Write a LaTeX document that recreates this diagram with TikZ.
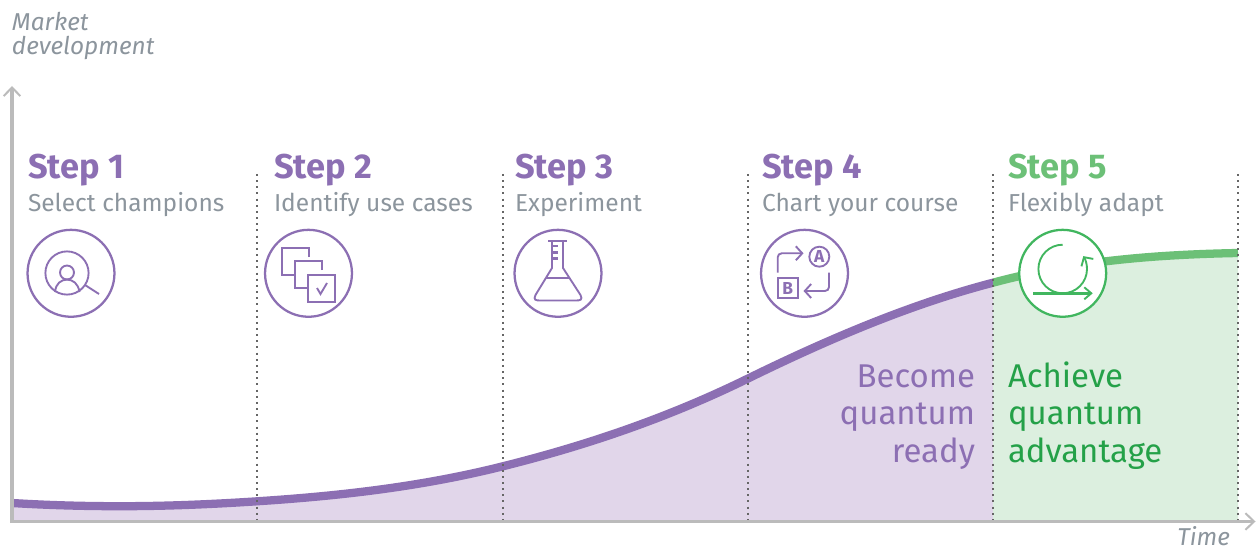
\documentclass[tikz,border=0pt]{standalone}
\usepackage{fontspec}
\setmainfont{Fira Sans}
\usetikzlibrary{arrows.meta}
\definecolor{purp}{HTML}{8C6FB3}
\definecolor{lpurp}{HTML}{E1D6EA}
\definecolor{grn}{HTML}{41B65F}
\definecolor{mgrn}{HTML}{6CC077}
\definecolor{lgrn}{HTML}{DCEFDF}
\definecolor{tgrn}{HTML}{24A148}
\definecolor{gtxt}{HTML}{8C959D}
\definecolor{axisc}{HTML}{BBBBBB}
\definecolor{dotc}{HTML}{666666}
\def\curvepath{(12,503) .. controls (48,505.2) and (84,506.2) .. (120,506.2) .. controls (166,506.2) and (211,504.3) .. (257,501.3) .. controls (338.7,496) and (420.3,486.9) .. (502,466.5) .. controls (583.7,446.1) and (665.3,419) .. (747,379) .. controls (829,338.8) and (911,304) .. (993,282.7) .. controls (1074.7,260.7) and (1156.3,254.6) .. (1238,253)}
\tikzset{
  txt/.style={inner sep=0pt,outer sep=0pt},
  stephead/.style={txt,anchor=base west,font=\fontsize{25.8}{28}\selectfont\bfseries},
  stepsub/.style={txt,anchor=base west,text=gtxt,font=\fontsize{18.4}{22}\selectfont},
  axlabel/.style={txt,text=gtxt,font=\fontsize{18.3}{18}\selectfont\itshape},
  bigtxt/.style={txt,font=\fontsize{24.7}{28.1}\selectfont},
  ring/.style={circle,draw=#1,line width=1.7pt,fill=white,minimum size=65.2pt,inner sep=0pt},
  ic/.style={draw=#1,line width=1.4pt,line join=miter},
  icthick/.style={draw=#1,line width=2.2pt},
  axisl/.style={draw=axisc,line width=2.6pt,-{Straight Barb[length=6.5pt,width=12.5pt,line width=1.5pt]}},
  sep/.style={draw=dotc,line width=1.5pt,dash pattern=on 1.5pt off 3.12pt},
  icarrow/.style={-{Straight Barb[length=4.8pt,width=10.5pt,line width=1.4pt]}}
}
\begin{document}
\begin{tikzpicture}[x=0.75pt,y=-0.75pt]
\useasboundingbox (0,0) rectangle (1256,549);
% fills
\begin{scope}
\clip (0,0) rectangle (993,530);
\fill[lpurp] \curvepath -- (1238,521) -- (12,521) -- cycle;
\end{scope}
\begin{scope}
\clip (993,0) rectangle (1238,530);
\fill[lgrn] \curvepath -- (1238,521) -- (12,521) -- cycle;
\end{scope}
% curve
\begin{scope}
\clip (0,0) rectangle (993,530);
\draw[purp,line width=6.2pt] \curvepath;
\end{scope}
\begin{scope}
\clip (993,0) rectangle (1238,530);
\draw[mgrn,line width=6.2pt] \curvepath;
\end{scope}
% separators
\foreach \n/\x in {a/257,b/502.5,c/747.5,d/993,e/1238}{
  \coordinate (sep\n t) at (\x,174);
  \coordinate (sep\n b) at (\x,522);
  \draw[sep] (sep\n t) -- (sep\n b);
}
% axes
\coordinate (ybot) at (12,523);
\coordinate (xbeg) at (10.8,521.5);
\coordinate (ytop) at (12,86);
\coordinate (xend) at (1255.5,521.5);
\draw[axisl] (ybot) -- (ytop);
\draw[axisl] (xbeg) -- (xend);
% axis labels
\node[axlabel,anchor=base west,align=left] (ylab) at (12,55) {Market\\development};
\node[axlabel,anchor=base east] (xlab) at (1230,545) {Time};
% step text
\node[stephead,text=purp] (s1) at (28,179) {Step 1};
\node[stephead,text=purp] (s2) at (274,179) {Step 2};
\node[stephead,text=purp] (s3) at (515,179) {Step 3};
\node[stephead,text=purp] (s4) at (762,179) {Step 4};
\node[stephead,text=mgrn] (s5) at (1008,179) {Step 5};
\node[stepsub] (t1) at (28,211) {Select champions};
\node[stepsub] (t2) at (274,211) {Identify use cases};
\node[stepsub] (t3) at (515,211) {Experiment};
\node[stepsub] (t4) at (762,211) {Chart your course};
\node[stepsub] (t5) at (1008,211) {Flexibly adapt};
% big labels
\node[bigtxt,text=purp,align=right,anchor=base east] (br) at (975,462) {Become\\quantum\\ready};
\node[bigtxt,text=tgrn,align=left,anchor=base west] (ach) at (1008,462) {Achieve\\quantum\\advantage};
% rings
\node[ring=purp] (r1) at (71,273.3) {};
\node[ring=purp] (r2) at (308.5,273.3) {};
\node[ring=purp] (r3) at (558,273.3) {};
\node[ring=purp] (r4) at (804.5,273.3) {};
\node[ring=grn] (r5) at (1062.7,273.3) {};
% icon 1
\draw[ic=purp] (67,273) circle[radius=21.6];
\draw[ic=purp] (67,272.5) circle[radius=7];
\draw[ic=purp] (55,292) .. controls (56,283) and (61,280) .. (67,279.5) .. controls (73,280) and (78,283) .. (79.5,292);
\draw[ic=purp] (85,285) -- (99,294);
% icon 2
\draw[ic=purp] (309,257) -- (309,248) -- (282,248) -- (282,275) -- (295,275);
\draw[ic=purp] (322,270) -- (322,261) -- (295,261) -- (295,288) -- (308,288);
\draw[ic=purp] (308,275) rectangle (335,302);
\draw[ic=purp] (317,288) -- (320.5,294) -- (327,283);
% icon 3
\draw[icthick=purp] (548,241) -- (567,241);
\draw[ic=purp,line join=round] (552,241) -- (552,268) -- (535.5,295) .. controls (533,300) and (536,300.5) .. (540,300.5) -- (576,300.5) .. controls (580,300.5) and (583,300) .. (580.5,295) -- (563,268) -- (563,241);
\draw[icthick=purp] (546,278) -- (570,278);
\foreach \y in {246,252.3,258.3} \draw[icthick=purp] (552,\y) -- (558,\y);
% icon 4
\draw[ic=purp,icarrow,rounded corners=3pt] (777.7,272.7) -- (777.7,253.3) -- (803.5,253.3);
\draw[ic=purp] (819.3,256.7) circle[radius=10];
\node[txt,text=purp,font=\fontsize{13}{14}\selectfont\bfseries] (la) at (819.3,256.7) {A};
\draw[ic=purp] (777.7,278.3) rectangle (797.7,298.3);
\node[txt,text=purp,font=\fontsize{13}{14}\selectfont\bfseries] (lb) at (787.7,288.3) {B};
\draw[ic=purp,icarrow,rounded corners=3pt] (829,272.7) -- (829,291) -- (803.5,291);
% icon 5
\draw[ic=grn,icarrow] (1062.7,244.7) arc[start angle=-90,end angle=-392,radius=24.3];
\draw[icthick=grn] (1033.3,293.3) -- (1090,293.3);
\draw[ic=grn] (1084.3,287.3) -- (1091.3,293.3) -- (1084.3,299.3);
\end{tikzpicture}
\end{document}
